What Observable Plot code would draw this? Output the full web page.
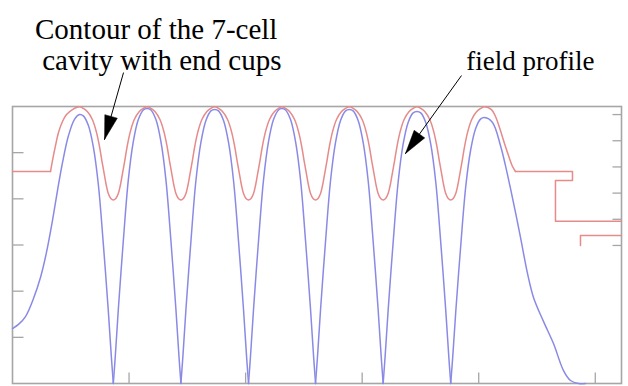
<!DOCTYPE html>
<html><head><meta charset="utf-8">
<script src="https://cdn.jsdelivr.net/npm/d3@7"></script>
<script src="https://cdn.jsdelivr.net/npm/@observablehq/plot@0.6"></script>
<style>
html,body{margin:0;padding:0;background:#fff}
#chart{width:628px;height:386px}
</style>
</head><body><div id="chart"></div>
<script>
// ---------- axes ----------
const xDomain = [0, 1045];                 // position along axis, mm
const xTicks = [200, 400, 600, 800, 1000];
const fieldDomain = [0, 1.2];              // left axis: field amplitude
const fieldTicks = [0.2, 0.4, 0.6, 0.8, 1.0];
const radiusTicks = [0, 20, 40, 60, 80, 100]; // right axis: radius, mm
const radiusAxisAt = [0.598, 1.165];       // where r=0 and r=100 sit on the left axis

// ---------- cavity contour ----------
const irisZ = [173, 289, 405, 520, 636, 752];
const cellZ = [115, 231, 347, 462, 578, 694, 810];
const irisDz = [0, 4.3, 8.6, 12.0, 15.4, 19.7, 24.0, 29.2, 36.0, 44.6, 51.5];
const irisR  = [34.7, 35.9, 39.7, 45.8, 54.2, 64.9, 76.3, 87.0, 96.2, 102.3, 104.7];
const equatorR = 105.9;
const leftEndZ = [65.2, 68.6, 73.8, 78.9, 85.8, 92.7, 102.9];
const leftEndR = [56.5, 64.9, 76.3, 86.3, 94.7, 100.0, 103.8];
const rightEndZ = [821.9, 828.8, 837.3, 844.2, 851.1, 858.0, 863.1];
const rightEndR = [103.8, 98.5, 87.8, 77.9, 68.7, 60.3, 56.5];
const leftPipeZ = [0, 65.2];
const leftPipeR = [56.5, 56.5];
const rightPipeZ = [863.1, 960.9, 960.9, 931.7, 931.7, 1045];
const rightPipeR = [56.5, 56.5, 49.6, 49.6, 18.5, 18.5];
const couplerZ = [1045, 974.6, 974.6];
const couplerR = [7.6, 7.6, 0];

// ---------- field profile ----------
const fieldPeak = [1.165, 1.191, 1.187, 1.191, 1.187, 1.178, 1.152];
const fieldDz   = [0, 3.4, 8.6, 17.2, 25.7, 34.3, 42.9, 51.5];
const fieldFrac = [0, 0.1, 0.27, 0.52, 0.74, 0.88, 0.96, 0.995];
const leftTailZ = [0, 10.3, 22.3, 36.0, 48.0, 58.3, 68.6, 77.2, 85.8, 96.1, 106.4];
const leftTailE = [0.238, 0.256, 0.290, 0.368, 0.459, 0.568, 0.706, 0.836, 0.957, 1.074, 1.144];
const rightTailZ = [823.6, 837.3, 845.9, 854.5, 863.1, 871.7, 883.7, 894.0, 911.1, 928.3, 945.5, 957.5, 971.2, 983.2];
const rightTailE = [1.131, 1.031, 0.944, 0.845, 0.741, 0.633, 0.477, 0.373, 0.269, 0.173, 0.056, 0.013, 0, 0];

// ---------- annotations ----------
const labelText = ["Contour of the 7-cell", " cavity with end cups", "field profile"];
const labelX = [38.6, 38.6, 998.6];
const labelY = [1.494, 1.356, 1.356];
const labelAnchor = ["start", "start", "end"];
const labelSize = [29, 29, 27];
const arrowFromX = [190.5, 770.4];
const arrowFromY = [1.347, 1.334];
const arrowToX = [157.9, 674.3];
const arrowToY = [1.057, 0.996];

// ---------- build tables ----------
const W = 628, H = 386, mL = 12, mR = 7, mT = 106, mB = 3;
const r2y = d3.scaleLinear([0, 100], radiusAxisAt);
const xs = d3.scaleLinear(xDomain, [mL, W - mR]);
const ys = d3.scaleLinear(fieldDomain, [H - mB, mT]);

const contour = [];
leftEndZ.forEach((z, i) => contour.push({z, r: leftEndR[i]}));
contour.push({z: cellZ[0], r: equatorR});
irisZ.forEach((iz, k) => {
  for (let j = irisDz.length - 1; j >= 1; j--) contour.push({z: iz - irisDz[j], r: irisR[j]});
  contour.push({z: iz, r: irisR[0]});
  for (let j = 1; j < irisDz.length; j++) contour.push({z: iz + irisDz[j], r: irisR[j]});
  contour.push({z: cellZ[k + 1], r: equatorR});
});
rightEndZ.forEach((z, i) => contour.push({z, r: rightEndR[i]}));

const steps = [];
leftPipeZ.forEach((z, i) => steps.push({z, r: leftPipeR[i], s: "lp"}));
rightPipeZ.forEach((z, i) => steps.push({z, r: rightPipeR[i], s: "rp"}));
couplerZ.forEach((z, i) => steps.push({z, r: couplerR[i], s: "cp"}));

const field = [];
leftTailZ.forEach((z, i) => field.push({z, e: leftTailE[i], c: 0}));
field.push({z: cellZ[0], e: fieldPeak[0], c: 0});
for (let j = fieldDz.length - 1; j >= 0; j--) field.push({z: irisZ[0] - fieldDz[j], e: fieldPeak[0] * fieldFrac[j], c: 0});
for (let k = 1; k < 6; k++) {
  for (let j = 0; j < fieldDz.length; j++) field.push({z: irisZ[k - 1] + fieldDz[j], e: fieldPeak[k] * fieldFrac[j], c: k});
  field.push({z: cellZ[k], e: fieldPeak[k], c: k});
  for (let j = fieldDz.length - 1; j >= 0; j--) field.push({z: irisZ[k] - fieldDz[j], e: fieldPeak[k] * fieldFrac[j], c: k});
}
for (let j = 0; j < fieldDz.length; j++) field.push({z: irisZ[5] + fieldDz[j], e: fieldPeak[6] * fieldFrac[j], c: 6});
field.push({z: cellZ[6], e: fieldPeak[6], c: 6});
rightTailZ.forEach((z, i) => field.push({z, e: rightTailE[i], c: 6}));

// tick marks (inward), lengths in pixels mapped through the scales
const tickLen = 11, rTickLen = 9;
const xTickData = xTicks.map(x => ({x, y1: fieldDomain[0], y2: ys.invert(H - mB - tickLen)}));
const yTickData = fieldTicks.map(y => ({y, x1: xDomain[0], x2: xs.invert(mL + tickLen)}));
const rTickData = radiusTicks.map(r => ({y: r2y(r), x1: xs.invert(W - mR - rTickLen), x2: xDomain[1]}));

// arrowheads (filled triangles)
const heads = [];
arrowToX.forEach((tx, i) => {
  const px1 = xs(arrowFromX[i]), py1 = ys(arrowFromY[i]);
  const px2 = xs(tx), py2 = ys(arrowToY[i]);
  const L = Math.hypot(px2 - px1, py2 - py1);
  const ux = (px2 - px1) / L, uy = (py2 - py1) / L;
  const len = 24, hw = 6.5;
  const bx = px2 - ux * len, by = py2 - uy * len;
  [[px2, py2], [bx - uy * hw, by + ux * hw], [bx + uy * hw, by - ux * hw], [px2, py2]]
    .forEach(([a, b]) => heads.push({x: xs.invert(a), y: ys.invert(b), a: i}));
});
const links = arrowToX.map((tx, i) => ({x1: arrowFromX[i], y1: arrowFromY[i], x2: tx, y2: arrowToY[i]}));
const labels = labelText.map((t, i) => ({t, x: labelX[i], y: labelY[i], anchor: labelAnchor[i], size: labelSize[i]}));

const red = "#e68a8a", blue = "#8a8ae6", gray = "#a6a6a6";
const serif = "'Liberation Serif', 'Times New Roman', serif";

const textMarks = labels.map(d => Plot.text([d], {
  x: "x", y: "y", text: "t", textAnchor: d.anchor, lineAnchor: "bottom",
  fontSize: d.size, fontFamily: serif, fill: "#000"
}));

const chart = Plot.plot({
  width: W, height: H,
  marginLeft: mL, marginRight: mR, marginTop: mT, marginBottom: mB,
  x: {domain: xDomain, axis: null},
  y: {domain: fieldDomain, axis: null},
  style: {background: "#fff", overflow: "visible"},
  marks: [
    Plot.link(xTickData, {x1: "x", x2: "x", y1: "y1", y2: "y2", stroke: gray, strokeWidth: 1.3}),
    Plot.link(yTickData, {x1: "x1", x2: "x2", y1: "y", y2: "y", stroke: gray, strokeWidth: 1.3}),
    Plot.link(rTickData, {x1: "x1", x2: "x2", y1: "y", y2: "y", stroke: gray, strokeWidth: 1.3}),
    Plot.frame({stroke: gray, strokeWidth: 1.6}),
    Plot.line(steps, {x: "z", y: d => r2y(d.r), z: "s", stroke: red, strokeWidth: 1.5}),
    Plot.line(contour, {x: "z", y: d => r2y(d.r), stroke: red, strokeWidth: 1.5, curve: "catmull-rom"}),
    Plot.line(field, {x: "z", y: "e", z: "c", stroke: blue, strokeWidth: 1.5, curve: "catmull-rom"}),
    Plot.link(links, {x1: "x1", y1: "y1", x2: "x2", y2: "y2", stroke: "#000", strokeWidth: 1}),
    Plot.line(heads, {x: "x", y: "y", z: "a", fill: "#000", stroke: "#000", strokeWidth: 0.5}),
    ...textMarks
  ]
});
document.getElementById("chart").appendChild(chart);
</script>
</body></html>
